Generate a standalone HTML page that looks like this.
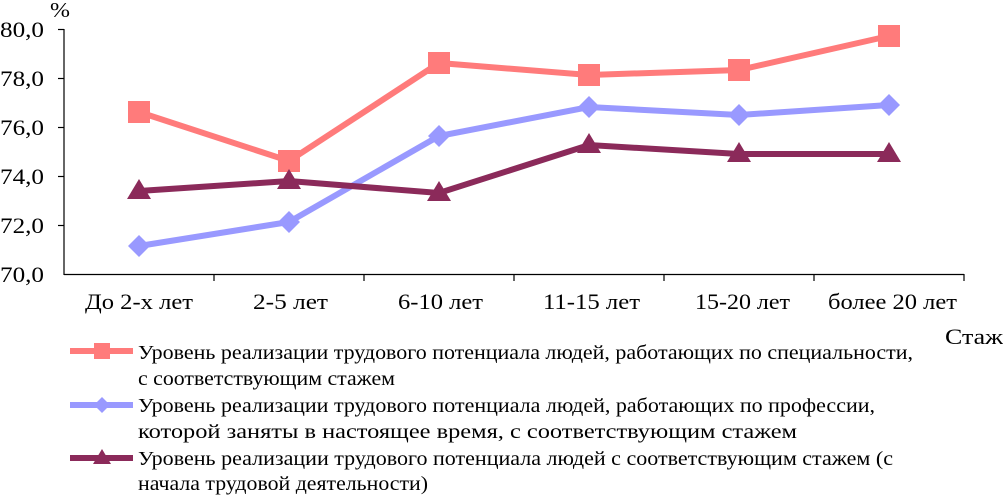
<!DOCTYPE html>
<html><head><meta charset="utf-8"><style>
body{margin:0;background:#fff}
svg text{font-family:"Liberation Serif",serif;fill:#000}
</style></head><body>
<svg width="1003" height="497" viewBox="0 0 1003 497">
<g stroke="#000" stroke-width="1.2">
<line x1="64" y1="29" x2="64" y2="275"/>
<line x1="64" y1="274.5" x2="964" y2="274.5"/>
<line x1="58" y1="29.5" x2="64" y2="29.5"/>
<line x1="58" y1="78.5" x2="64" y2="78.5"/>
<line x1="58" y1="127.5" x2="64" y2="127.5"/>
<line x1="58" y1="176.5" x2="64" y2="176.5"/>
<line x1="58" y1="225.5" x2="64" y2="225.5"/>
<line x1="214" y1="274" x2="214" y2="281"/>
<line x1="364" y1="274" x2="364" y2="281"/>
<line x1="514" y1="274" x2="514" y2="281"/>
<line x1="664" y1="274" x2="664" y2="281"/>
<line x1="814" y1="274" x2="814" y2="281"/>
<line x1="964" y1="274" x2="964" y2="281"/>
</g>
<g font-size="22">
<text x="0" y="37" textLength="44" lengthAdjust="spacingAndGlyphs">80,0</text>
<text x="0" y="86" textLength="44" lengthAdjust="spacingAndGlyphs">78,0</text>
<text x="0" y="135" textLength="44" lengthAdjust="spacingAndGlyphs">76,0</text>
<text x="0" y="184" textLength="44" lengthAdjust="spacingAndGlyphs">74,0</text>
<text x="0" y="233" textLength="44" lengthAdjust="spacingAndGlyphs">72,0</text>
<text x="0" y="282" textLength="44" lengthAdjust="spacingAndGlyphs">70,0</text>
</g>
<text x="50" y="17" font-size="21" textLength="20" lengthAdjust="spacingAndGlyphs">%</text>
<g font-size="22">
<text x="85" y="309" textLength="108" lengthAdjust="spacingAndGlyphs">До 2-х лет</text>
<text x="253" y="309" textLength="75" lengthAdjust="spacingAndGlyphs">2-5 лет</text>
<text x="398" y="309" textLength="85" lengthAdjust="spacingAndGlyphs">6-10 лет</text>
<text x="543" y="309" textLength="97" lengthAdjust="spacingAndGlyphs">11-15 лет</text>
<text x="695" y="309" textLength="95" lengthAdjust="spacingAndGlyphs">15-20 лет</text>
<text x="828" y="309" textLength="129" lengthAdjust="spacingAndGlyphs">более 20 лет</text>
</g>
<text x="945" y="344" font-size="22" textLength="58" lengthAdjust="spacingAndGlyphs">Стаж</text>
<polyline fill="none" stroke="#ff7b7b" stroke-width="6" points="139,112 289,161 439,63 589,75 739,70 889,36"/>
<g fill="#ff7b7b">
<rect x="128" y="101" width="22" height="22"/><rect x="278" y="150" width="22" height="22"/><rect x="428" y="52" width="22" height="22"/>
<rect x="578" y="64" width="22" height="22"/><rect x="728" y="59" width="22" height="22"/><rect x="878" y="25" width="22" height="22"/>
</g>
<polyline fill="none" stroke="#9999ff" stroke-width="6" points="139,246 289,222 439,136 589,107 739,115 889,105"/>
<g fill="#9999ff">
<path d="M139 235l11 11-11 11-11-11z"/><path d="M289 211l11 11-11 11-11-11z"/><path d="M439 125l11 11-11 11-11-11z"/>
<path d="M589 96l11 11-11 11-11-11z"/><path d="M739 104l11 11-11 11-11-11z"/><path d="M889 94l11 11-11 11-11-11z"/>
</g>
<polyline fill="none" stroke="#8b2a5a" stroke-width="6" points="139,191 289,181 439,193 589,145 739,154 889,154"/>
<g fill="#8b2a5a">
<path d="M139 179l12 20h-24z"/><path d="M289 169l12 20h-24z"/><path d="M439 181l12 20h-24z"/>
<path d="M589 133l12 20h-24z"/><path d="M739 142l12 20h-24z"/><path d="M889 142l12 20h-24z"/>
</g>
<line x1="70" y1="351" x2="133" y2="351" stroke="#ff7b7b" stroke-width="6"/>
<rect x="94" y="343" width="16" height="16" fill="#ff7b7b"/>
<line x1="70" y1="405" x2="133" y2="405" stroke="#9999ff" stroke-width="6"/>
<path d="M102 397l8 8-8 8-8-8z" fill="#9999ff"/>
<line x1="70" y1="458" x2="133" y2="458" stroke="#8b2a5a" stroke-width="6"/>
<path d="M102 449l9 15h-18z" fill="#8b2a5a"/>
<g font-size="20">
<text x="138" y="359" textLength="775" lengthAdjust="spacingAndGlyphs">Уровень реализации трудового потенциала людей, работающих по специальности,</text>
<text x="138" y="385" textLength="257" lengthAdjust="spacingAndGlyphs">с соответствующим стажем</text>
<text x="138" y="412" textLength="737" lengthAdjust="spacingAndGlyphs">Уровень реализации трудового потенциала людей, работающих по профессии,</text>
<text x="138" y="438" textLength="659" lengthAdjust="spacingAndGlyphs">которой заняты в настоящее время, с соответствующим стажем</text>
<text x="138" y="465" textLength="755" lengthAdjust="spacingAndGlyphs">Уровень реализации трудового потенциала людей с соответствующим стажем (с</text>
<text x="138" y="490" textLength="290" lengthAdjust="spacingAndGlyphs">начала трудовой деятельности)</text>
</g>
</svg>
</body></html>
